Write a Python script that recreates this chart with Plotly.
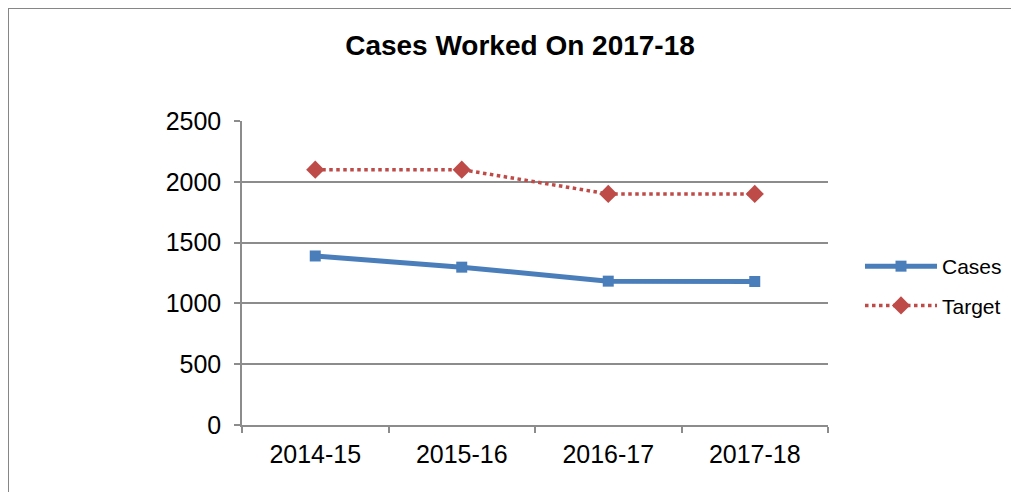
import plotly.graph_objects as go

# ── Data ───────────────────────────────────────────────────────────────────────
years  = ["2014-15", "2015-16", "2016-17", "2017-18"]
cases  = [1390, 1298, 1183, 1180]
target = [2100, 2100, 1900, 1900]
y_ticks = [0, 500, 1000, 1500, 2000, 2500]

# ── Style ──────────────────────────────────────────────────────────────────────
BLUE  = "#4A7EBB"
RED   = "#BE4B48"
GRID  = "#8C8C8C"
FONT  = "Liberation Sans, Arial, sans-serif"

# the page body adds an 8px margin: lay the figure out 8px up/left and
# keep it inside the 1019x504 window so no scrollbars show
W, H = 1003, 484
L, T = 234, 113
PW, PH = 586, 304
R, B = W - L - PW, H - T - PH

fig = go.Figure()
fig.add_trace(go.Scatter(
    x=years, y=cases, name="Cases", legendgroup="a",
    mode="lines+markers",
    line=dict(color=BLUE, width=5),
    marker=dict(symbol="square", size=11, color=BLUE),
))
fig.add_trace(go.Scatter(
    x=years, y=target, name="Target", legendgroup="b",
    mode="lines+markers",
    line=dict(color=RED, width=3.5, dash="dot"),
    marker=dict(symbol="diamond", size=14, color=RED),
))

# outer chart border: only the left and top edges are inside the picture
bx0 = (0 - L) / PW
bx1 = (W + 30 - L) / PW
by0 = -(H + 30 - (T + PH)) / PH
by1 = (T + PH) / PH
fig.add_shape(
    type="path", xref="paper", yref="paper",
    path=f"M {bx0},{by0} L {bx0},{by1} L {bx1},{by1}",
    line=dict(color="#868686", width=2), layer="below",
)

fig.update_layout(
    width=W, height=H,
    margin=dict(l=L, r=R, t=T, b=B, autoexpand=False),
    plot_bgcolor="white", paper_bgcolor="white",
    font=dict(family=FONT, color="black", size=25),
    title=dict(
        text="<b>Cases Worked On 2017-18</b>",
        font=dict(size=28, family=FONT, color="black"),
        x=512 / W, xanchor="center", y=1 - 37 / H, yanchor="middle",
        xref="container", yref="container",
    ),
    legend=dict(
        x=(852 - L) / PW, y=(T + PH - 238) / PH, xanchor="left", yanchor="top",
        font=dict(size=21), itemwidth=72, tracegroupgap=9,
        bgcolor="rgba(0,0,0,0)",
    ),
    xaxis=dict(
        type="category", range=[-0.5, 3.5],
        showline=True, linecolor=GRID, linewidth=1.5,
        ticks="outside", tickson="boundaries", ticklen=6, tickcolor=GRID,
        tickwidth=1.5, showgrid=False, ticklabelstandoff=6,
    ),
    yaxis=dict(
        range=[0, 2500], tickvals=y_ticks,
        showline=True, linecolor=GRID, linewidth=1.5,
        ticks="outside", ticklen=6, tickcolor=GRID, tickwidth=1.5,
        showgrid=True, gridcolor=GRID, gridwidth=1.5,
        zeroline=False, ticklabelstandoff=8,
    ),
)

fig.write_html("out.html")
